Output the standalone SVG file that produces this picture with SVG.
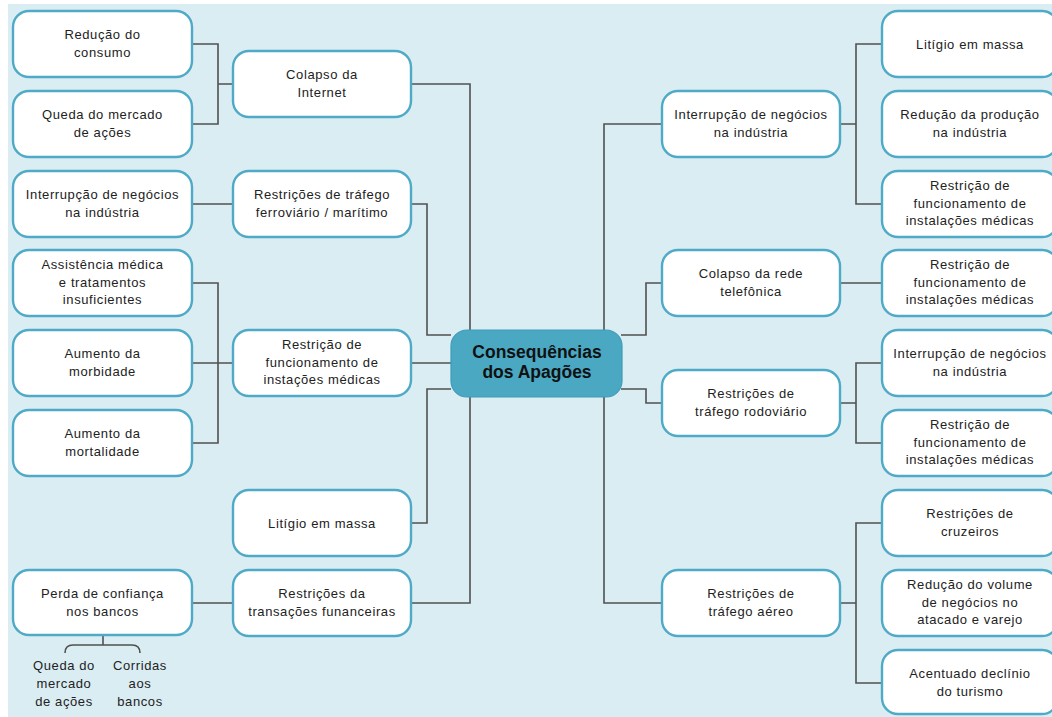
<svg xmlns="http://www.w3.org/2000/svg" width="1052" height="717" viewBox="0 0 1052 717">
<style>
.bx{fill:#ffffff;stroke:#4eaac6;stroke-width:2.4}
.ctr{fill:#4aa8c3;stroke:#3f9cb8;stroke-width:1.2}
.t{font-family:"Liberation Sans",Arial,sans-serif;font-size:13px;fill:#222;text-anchor:middle;letter-spacing:0.6px}
.ct{font-family:"Liberation Sans",Arial,sans-serif;font-size:17.5px;font-weight:bold;fill:#111;text-anchor:middle}
.ln{fill:none;stroke:#505050;stroke-width:1.6}
</style>
<rect x="0" y="0" width="1052" height="717" fill="#ffffff"/>
<rect x="8" y="4" width="1044" height="713" fill="#daedf3"/>
<g id="connectors">
<path class="ln" d="M192,44 H218 V124 H192 M218,84 H233"/>
<path class="ln" d="M411,84 H470 V603 H411"/>
<path class="ln" d="M411,204 H427 V335 H451"/>
<path class="ln" d="M411,523 H427 V389 H451"/>
<path class="ln" d="M192,204 H233"/>
<path class="ln" d="M192,283 H218 V443 H192 M192,363 H233"/>
<path class="ln" d="M411,363 H451"/>
<path class="ln" d="M192,603 H233"/>
<path class="ln" d="M103,636 V645 M65,653 Q65,645 73,645 H132 Q140,645 140,653"/>
<path class="ln" d="M662,124 H604 V603 H662"/>
<path class="ln" d="M621,335 H646 V283 H662"/>
<path class="ln" d="M621,389 H646 V403 H662"/>
<path class="ln" d="M840,124 H856 M882,44 H856 V204 H882"/>
<path class="ln" d="M840,283 H882"/>
<path class="ln" d="M840,403 H856 M882,363 H856 V443 H882"/>
<path class="ln" d="M840,603 H856 M882,523 H856 V683 H882"/>
</g>
<g id="L1"><rect class="bx" x="13" y="11" width="179" height="66" rx="16"/><text class="t" x="102.5" y="39">Redução do</text><text class="t" x="102.5" y="57">consumo</text></g>
<g id="L2"><rect class="bx" x="13" y="91" width="179" height="66" rx="16"/><text class="t" x="102.5" y="119">Queda do mercado</text><text class="t" x="102.5" y="137">de ações</text></g>
<g id="L3"><rect class="bx" x="13" y="171" width="179" height="66" rx="16"/><text class="t" x="102.5" y="199">Interrupção de negócios</text><text class="t" x="102.5" y="217">na indústria</text></g>
<g id="L4"><rect class="bx" x="13" y="250" width="179" height="66" rx="16"/><text class="t" x="102.5" y="269">Assistência médica</text><text class="t" x="102.5" y="286.5">e tratamentos</text><text class="t" x="102.5" y="303.5">insuficientes</text></g>
<g id="L5"><rect class="bx" x="13" y="330" width="179" height="66" rx="16"/><text class="t" x="102.5" y="358">Aumento da</text><text class="t" x="102.5" y="376">morbidade</text></g>
<g id="L6"><rect class="bx" x="13" y="410" width="179" height="66" rx="16"/><text class="t" x="102.5" y="438">Aumento da</text><text class="t" x="102.5" y="456">mortalidade</text></g>
<g id="L7"><rect class="bx" x="13" y="570" width="179" height="65" rx="16"/><text class="t" x="102.5" y="598">Perda de confiança</text><text class="t" x="102.5" y="616">nos bancos</text></g>
<g id="L7a"><text class="t" x="64" y="670">Queda do</text><text class="t" x="64" y="688">mercado</text><text class="t" x="64" y="706">de ações</text></g>
<g id="L7b"><text class="t" x="140" y="670">Corridas</text><text class="t" x="140" y="688">aos</text><text class="t" x="140" y="706">bancos</text></g>
<g id="M1"><rect class="bx" x="233" y="51" width="178" height="66" rx="16"/><text class="t" x="322" y="79">Colapso da</text><text class="t" x="322" y="97">Internet</text></g>
<g id="M2"><rect class="bx" x="233" y="171" width="178" height="66" rx="16"/><text class="t" x="322" y="199">Restrições de tráfego</text><text class="t" x="322" y="217">ferroviário / marítimo</text></g>
<g id="M3"><rect class="bx" x="233" y="330" width="178" height="66" rx="16"/><text class="t" x="322" y="349">Restrição de</text><text class="t" x="322" y="366.5">funcionamento de</text><text class="t" x="322" y="383.5">instações médicas</text></g>
<g id="M4"><rect class="bx" x="233" y="490" width="178" height="66" rx="16"/><text class="t" x="322" y="527.5">Litígio em massa</text></g>
<g id="M5"><rect class="bx" x="233" y="570" width="178" height="66" rx="16"/><text class="t" x="322" y="598">Restrições da</text><text class="t" x="322" y="616">transações funanceiras</text></g>
<g id="C"><rect class="ctr" x="451" y="330" width="171" height="67" rx="16"/><text class="ct" x="537" y="358">Consequências</text><text class="ct" x="537" y="378">dos Apagões</text></g>
<g id="R1"><rect class="bx" x="662" y="91" width="178" height="66" rx="16"/><text class="t" x="751" y="119">Interrupção de negócios</text><text class="t" x="751" y="137">na indústria</text></g>
<g id="R2"><rect class="bx" x="662" y="250" width="178" height="66" rx="16"/><text class="t" x="751" y="278">Colapso da rede</text><text class="t" x="751" y="296">telefônica</text></g>
<g id="R3"><rect class="bx" x="662" y="370" width="178" height="66" rx="16"/><text class="t" x="751" y="398">Restrições de</text><text class="t" x="751" y="416">tráfego rodoviário</text></g>
<g id="R4"><rect class="bx" x="662" y="570" width="178" height="66" rx="16"/><text class="t" x="751" y="598">Restrições de</text><text class="t" x="751" y="616">tráfego aéreo</text></g>
<g id="O1"><rect class="bx" x="882" y="11" width="176" height="66" rx="16"/><text class="t" x="970" y="48.5">Litígio em massa</text></g>
<g id="O2"><rect class="bx" x="882" y="91" width="176" height="66" rx="16"/><text class="t" x="970" y="119">Redução da produção</text><text class="t" x="970" y="137">na indústria</text></g>
<g id="O3"><rect class="bx" x="882" y="171" width="176" height="66" rx="16"/><text class="t" x="970" y="190">Restrição de</text><text class="t" x="970" y="207.5">funcionamento de</text><text class="t" x="970" y="224.5">instalações médicas</text></g>
<g id="O4"><rect class="bx" x="882" y="250" width="176" height="66" rx="16"/><text class="t" x="970" y="269">Restrição de</text><text class="t" x="970" y="286.5">funcionamento de</text><text class="t" x="970" y="303.5">instalações médicas</text></g>
<g id="O5"><rect class="bx" x="882" y="330" width="176" height="66" rx="16"/><text class="t" x="970" y="358">Interrupção de negócios</text><text class="t" x="970" y="376">na indústria</text></g>
<g id="O6"><rect class="bx" x="882" y="410" width="176" height="66" rx="16"/><text class="t" x="970" y="429">Restrição de</text><text class="t" x="970" y="446.5">funcionamento de</text><text class="t" x="970" y="463.5">instalações médicas</text></g>
<g id="O7"><rect class="bx" x="882" y="490" width="176" height="66" rx="16"/><text class="t" x="970" y="518">Restrições de</text><text class="t" x="970" y="536">cruzeiros</text></g>
<g id="O8"><rect class="bx" x="882" y="570" width="176" height="66" rx="16"/><text class="t" x="970" y="589">Redução do volume</text><text class="t" x="970" y="606.5">de negócios no</text><text class="t" x="970" y="623.5">atacado e varejo</text></g>
<g id="O9"><rect class="bx" x="882" y="650" width="176" height="64" rx="16"/><text class="t" x="970" y="678">Acentuado declínio</text><text class="t" x="970" y="696">do turismo</text></g>
</svg>
